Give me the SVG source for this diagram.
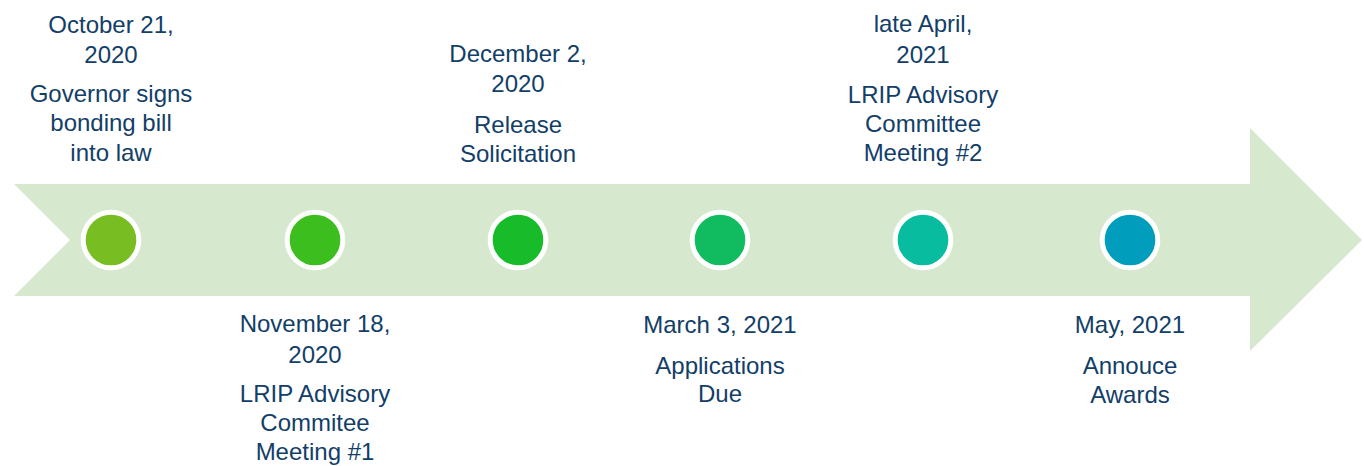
<svg xmlns="http://www.w3.org/2000/svg" width="1364" height="466" viewBox="0 0 1364 466">
<style>
text{font-family:"Liberation Sans",Arial,sans-serif;font-size:24px;fill:#123E68;text-anchor:middle}
.dot{stroke:#FFFFFF;stroke-width:5}
</style>
<rect width="1364" height="466" fill="#FFFFFF"/>
<g id="arrow">
<polygon points="14,184 1250,184 1250,128 1362,240 1250,351 1250,296 14,296 70,240" fill="#D6E8CD"/>
</g>
<g id="connectors"></g>
<g id="n1">
<circle class="dot" cx="111" cy="240" r="27.8" fill="#78BE22"/>
<text x="111" y="33">October 21,</text>
<text x="111" y="63">2020</text>
<text x="111" y="102">Governor signs</text>
<text x="111" y="131">bonding bill</text>
<text x="111" y="161">into law</text>
</g>
<g id="n2">
<circle class="dot" cx="315" cy="240" r="27.8" fill="#3CBE1E"/>
<text x="315" y="332">November 18,</text>
<text x="315" y="363">2020</text>
<text x="315" y="402">LRIP Advisory</text>
<text x="315" y="431">Commitee</text>
<text x="315" y="460">Meeting #1</text>
</g>
<g id="n3">
<circle class="dot" cx="518" cy="240" r="27.8" fill="#18BC2B"/>
<text x="518" y="62">December 2,</text>
<text x="518" y="92">2020</text>
<text x="518" y="133">Release</text>
<text x="518" y="162">Solicitation</text>
</g>
<g id="n4">
<circle class="dot" cx="720" cy="240" r="27.8" fill="#10BC5F"/>
<text x="720" y="333">March 3, 2021</text>
<text x="720" y="374">Applications</text>
<text x="720" y="402">Due</text>
</g>
<g id="n5">
<circle class="dot" cx="923" cy="240" r="27.8" fill="#08BCA0"/>
<text x="923" y="32">late April,</text>
<text x="923" y="63">2021</text>
<text x="923" y="103">LRIP Advisory</text>
<text x="923" y="132">Committee</text>
<text x="923" y="161">Meeting #2</text>
</g>
<g id="n6">
<circle class="dot" cx="1130" cy="240" r="27.8" fill="#019DBD"/>
<text x="1130" y="333">May, 2021</text>
<text x="1130" y="374">Annouce</text>
<text x="1130" y="403">Awards</text>
</g>
</svg>
